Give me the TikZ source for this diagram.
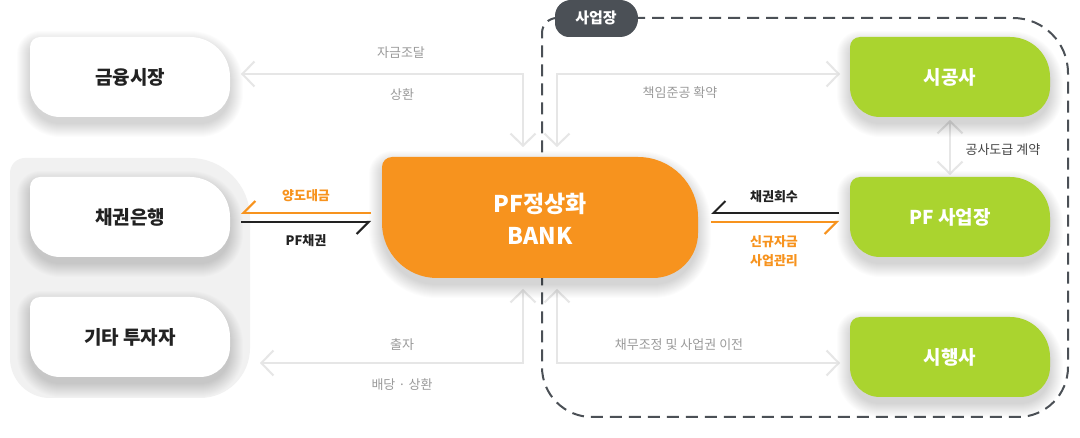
\documentclass[tikz,border=0pt]{standalone}
\usepackage{fontspec}
\setmainfont{Noto Sans CJK KR}
\usetikzlibrary{arrows.meta}
\definecolor{pforange}{HTML}{F7931E}
\definecolor{pfgreen}{HTML}{AAD42F}
\definecolor{pfdark}{HTML}{4B5056}
\definecolor{pfline}{HTML}{E6E6E6}
\definecolor{pfgraytext}{HTML}{9A9A9A}
\definecolor{pfpanel}{HTML}{F1F1F1}
\definecolor{pfblack}{HTML}{222222}
\definecolor{pfmid}{HTML}{444444}
% x1 y1 x2 y2 tl tr br bl   (y grows downward)
\newcommand\pfshape[8]{({(#1)+(#5)},{#2}) -- ({(#3)-(#6)},{#2}) arc[start angle=-90,end angle=0,radius={#6}] -- ({#3},{(#4)-(#7)}) arc[start angle=0,end angle=90,radius={#7}] -- ({(#1)+(#8)},{#4}) arc[start angle=90,end angle=180,radius={#8}] -- ({#1},{(#2)+(#5)}) arc[start angle=180,end angle=270,radius={#5}] -- cycle}
% soft shadow: layered translucent fills, shifted down
\newcommand\pfshadow[8]{%
  \foreach \i in {0,...,13}{%
    \fill[black,opacity=0.011] \pfshape{(#1)-\i}{(#2)+7-\i}{(#3)+\i}{(#4)+7+\i}{(#5)+\i}{(#6)+\i}{(#7)+\i}{(#8)+\i};
  }}
\tikzset{
  boxtext/.style={font=\fontsize{19}{22}\selectfont\bfseries},
  graylabel/.style={font=\fontsize{13}{15}\selectfont,text=pfgraytext},
  boldlabel/.style={font=\fontsize{13}{15}\selectfont\bfseries},
  grayarr/.style={draw=pfline,line width=2pt,{Straight Barb[length=12pt,width=25pt]}-{Straight Barb[length=12pt,width=25pt]}},
  harp/.style={line width=2pt,-{Straight Barb[length=12pt,width=24pt,harpoon,right]}},
}
\begin{document}
\begin{tikzpicture}[x=1pt,y=-1pt]
\useasboundingbox (0,0) rectangle (1080,438);
\fill[white] (0,0) rectangle (1080,438);
% panel
\fill[pfpanel] \pfshape{10}{158}{250}{398}{15}{60}{50}{40};
% dashed region
\draw[pfdark,line width=2pt,dash pattern=on 12pt off 7pt] \pfshape{542}{18}{1068}{417}{15}{55}{50}{50};
% coordinates for connectors
\coordinate (fmTip) at (241,74);
\coordinate (bankTopL) at (523,147);
\coordinate (bankTopR) at (557,147);
\coordinate (sgTip) at (840,74);
\coordinate (bankBotL) at (523,289);
\coordinate (bankBotR) at (557,289);
\coordinate (invTip) at (260,363);
\coordinate (shTip) at (840,363);
\coordinate (sgBot) at (950,120);
\coordinate (pfTop) at (950,175);
\coordinate (lbL1) at (241,213);
\coordinate (lbR1) at (371,213);
\coordinate (lbL2) at (241,222);
\coordinate (lbR2) at (371,222);
\coordinate (rbL1) at (711,213);
\coordinate (rbR1) at (839,213);
\coordinate (rbL2) at (711,222);
\coordinate (rbR2) at (839,222);
% gray connectors
\draw[grayarr] (fmTip) -| (bankTopL);
\draw[grayarr] (bankTopR) |- (sgTip);
\draw[grayarr] (bankBotL) |- (invTip);
\draw[grayarr] (bankBotR) |- (shTip);
\draw[grayarr] (sgBot) -- (pfTop);
% shadows
\pfshadow{30}{37}{230}{117}{10}{40}{30}{30}
\pfshadow{30}{177}{230}{257}{10}{40}{30}{30}
\pfshadow{30}{297}{230}{377}{10}{40}{30}{30}
\pfshadow{850}{37}{1050}{117}{10}{40}{30}{30}
\pfshadow{850}{177}{1050}{257}{10}{40}{30}{30}
\pfshadow{850}{317}{1050}{397}{10}{40}{30}{30}
\pfshadow{382}{157}{698}{278}{10}{60}{45}{55}
% boxes
\fill[white] \pfshape{30}{37}{230}{117}{10}{40}{30}{30};
\fill[white] \pfshape{30}{177}{230}{257}{10}{40}{30}{30};
\fill[white] \pfshape{30}{297}{230}{377}{10}{40}{30}{30};
\fill[pfgreen] \pfshape{850}{37}{1050}{117}{10}{40}{30}{30};
\fill[pfgreen] \pfshape{850}{177}{1050}{257}{10}{40}{30}{30};
\fill[pfgreen] \pfshape{850}{317}{1050}{397}{10}{40}{30}{30};
\fill[pforange] \pfshape{382}{157}{698}{278}{10}{60}{45}{55};
% tab
\fill[pfdark] \pfshape{555}{0}{638}{37}{16}{18}{18}{14};
\node[text=white,font=\fontsize{15}{17}\selectfont\bfseries] (tab) at (596,18) {사업장};
% box texts
\node[boxtext,text=pfblack] (fm) at (130,77) {금융시장};
\node[boxtext,text=pfblack] (cb) at (130,217) {채권은행};
\node[boxtext,text=pfblack] (inv) at (130,337) {기타 투자자};
\node[boxtext,text=white] (sg) at (950,77) {시공사};
\node[boxtext,text=white] (pf) at (950,217) {PF 사업장};
\node[boxtext,text=white] (sh) at (950,357) {시행사};
\node[text=white,font=\fontsize{23}{32}\selectfont\bfseries,align=center] (bank) at (540,219) {PF정상화\\BANK};
% harpoon connectors
\draw[harp,pforange] (lbR1) -- (lbL1);
\draw[harp,pfblack] (lbL2) -- (lbR2);
\draw[harp,pfblack] (rbR1) -- (rbL1);
\draw[harp,pforange] (rbL2) -- (rbR2);
% labels
\node[graylabel] (l1) at (401,53) {자금조달};
\node[graylabel] (l2) at (402,95) {상환};
\node[graylabel] (l3) at (680,93) {책임준공 확약};
\node[graylabel] (l4) at (402,345) {출자};
\node[graylabel] (l5) at (402,385) {배당 · 상환};
\node[graylabel] (l6) at (679,345) {채무조정 및 사업권 이전};
\node[font=\fontsize{13}{15}\selectfont,text=pfmid,anchor=west] (l7) at (962,150) {공사도급 계약};
\node[boldlabel,text=pforange] (l8) at (306,196) {양도대금};
\node[boldlabel,text=pfblack] (l9) at (306,241) {PF채권};
\node[boldlabel,text=pfblack] (l10) at (774,197) {채권회수};
\node[boldlabel,text=pforange,align=center,font=\fontsize{13}{19}\selectfont\bfseries] (l11) at (774,251) {신규자금\\사업관리};
\end{tikzpicture}
\end{document}
